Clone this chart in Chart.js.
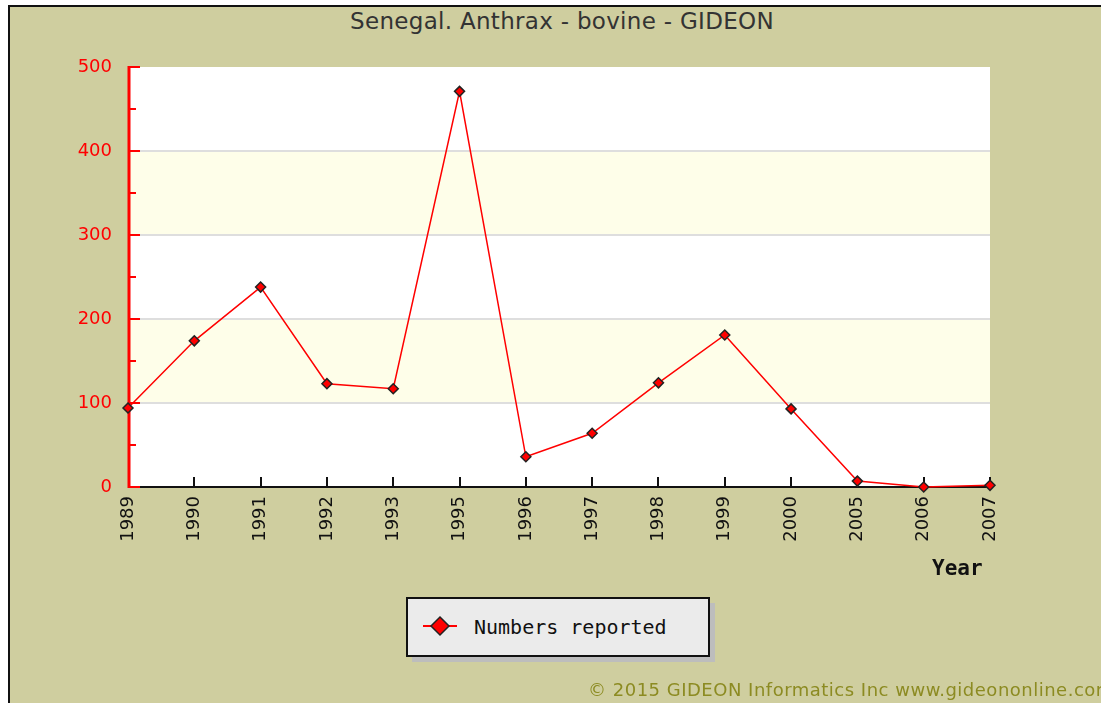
<!DOCTYPE html>
<html>
<head>
<meta charset="utf-8">
<script src="https://cdn.jsdelivr.net/npm/chart.js@4/dist/chart.umd.min.js"></script>
<style>
    html, body { margin: 0; padding: 0; background: #ffffff; overflow: hidden; }
    .frame {
        position: absolute; left: 8px; top: 5px; width: 1200px; height: 800px;
        background: #cfce9f; border: 2px solid #111;
    }
    #wrap { position: absolute; left: 0; top: 0; width: 1101px; height: 703px; }
    .title {
        position: absolute; left: 0; width: 1124px; top: 8px; text-align: center;
        font: 23px "DejaVu Sans", sans-serif; color: #333; letter-spacing: 0.3px;
    }
    .year {
        position: absolute; left: 932px; top: 556px;
        font: bold 21px "DejaVu Sans Mono", monospace; color: #111;
    }
    .legend-shadow {
        position: absolute; left: 412px; top: 603px; width: 303px; height: 59px; background: #bdbdbd;
    }
    .legend {
        position: absolute; left: 406px; top: 597px; width: 300px; height: 56px;
        background: #ebebeb; border: 2px solid #111;
    }
    .legend span {
        position: absolute; left: 66px; top: 16px;
        font: 20px "DejaVu Sans Mono", monospace; color: #111;
    }
    .copy {
        position: absolute; left: 588px; top: 679px; white-space: nowrap;
        font: 18px "DejaVu Sans", sans-serif; color: #8c8b22; letter-spacing: 0.5px;
    }
</style>
</head>
<body>
<div class="frame"></div>
<div class="title">Senegal. Anthrax - bovine - GIDEON</div>
<div id="wrap"><canvas id="chart" width="1101" height="703"></canvas></div>
<div class="year">Year</div>
<div class="legend-shadow"></div>
<div class="legend"><canvas id="marker" width="60" height="56" style="position:absolute;left:0;top:0"></canvas><span>Numbers reported</span></div>
<div class="copy">© 2015 GIDEON Informatics Inc www.gideononline.com</div>
<script>
const years = ['1989', '1990', '1991', '1992', '1993', '1995', '1996', '1997', '1998', '1999', '2000', '2005', '2006', '2007'];
const reported = [94, 174, 238, 123, 117, 471, 36, 64, 124, 181, 93, 7, 0, 2];
const yMax = 500;
const yStep = 100;

// fond du graphique : bandes blanches / jaunes, grille, axes avec ticks vers l'intérieur
const plotDecor = {
    id: 'plotDecor',
    beforeDatasetsDraw(chart) {
        const { ctx, chartArea: a, scales: { x, y } } = chart;
        ctx.save();
        for (let v = 0; v < yMax; v += yStep) {
            ctx.fillStyle = (v / yStep) % 2 === 1 ? '#fefee9' : '#ffffff';
            ctx.fillRect(a.left, y.getPixelForValue(v + yStep), a.right - a.left, y.getPixelForValue(v) - y.getPixelForValue(v + yStep));
        }
        ctx.strokeStyle = '#dedede';
        ctx.lineWidth = 2;
        for (let v = yStep; v < yMax; v += yStep) {
            const py = Math.round(y.getPixelForValue(v));
            ctx.beginPath(); ctx.moveTo(a.left, py); ctx.lineTo(a.right, py); ctx.stroke();
        }
        // axe x noir
        ctx.strokeStyle = '#111';
        ctx.lineWidth = 2;
        ctx.beginPath(); ctx.moveTo(a.left, a.bottom); ctx.lineTo(a.right + 1, a.bottom); ctx.stroke();
        years.forEach((yr, i) => {
            if (i === 0) return;
            const px = Math.round(x.getPixelForValue(i));
            ctx.beginPath(); ctx.moveTo(px, a.bottom - 10); ctx.lineTo(px, a.bottom); ctx.stroke();
        });
        // axe y rouge
        ctx.strokeStyle = '#ff0000';
        ctx.lineWidth = 3;
        ctx.beginPath(); ctx.moveTo(a.left + 1, a.top - 1); ctx.lineTo(a.left + 1, a.bottom + 1); ctx.stroke();
        ctx.lineWidth = 2;
        for (let v = 0; v <= yMax; v += yStep / 2) {
            const py = Math.round(y.getPixelForValue(v));
            const len = v % yStep === 0 ? 12 : 8;
            ctx.beginPath(); ctx.moveTo(a.left, py); ctx.lineTo(a.left + len, py); ctx.stroke();
        }
        ctx.restore();
    }
};

function renderChart() {
    const ctx = document.getElementById('chart').getContext('2d');
    window.chartInstance = new Chart(ctx, {
        type: 'line',
        data: {
            labels: years,
            datasets: [{
                label: 'Numbers reported',
                data: reported,
                borderColor: '#ff0000',
                borderWidth: 1.5,
                tension: 0,
                pointStyle: 'rectRot',
                pointRadius: 5,
                pointBackgroundColor: '#ff0000',
                pointBorderColor: '#222',
                pointBorderWidth: 1.5,
                clip: false
            }]
        },
        options: {
            responsive: false,
            animation: false,
            layout: { padding: { left: 10, right: 111, top: 67, bottom: 156 } },
            plugins: { legend: { display: false }, tooltip: { enabled: false } },
            scales: {
                x: {
                    offset: false,
                    grid: { display: false, drawTicks: false },
                    border: { display: false },
                    afterFit: (scale) => { scale.height = 60; },
                    ticks: {
                        color: '#111', padding: 9, minRotation: 90, maxRotation: 90, autoSkip: false,
                        font: { family: 'DejaVu Sans', size: 18 }
                    }
                },
                y: {
                    min: 0, max: yMax,
                    grid: { display: false, drawTicks: false },
                    border: { display: false },
                    afterFit: (scale) => { scale.width = 118; },
                    ticks: {
                        stepSize: yStep, color: '#ff0000', padding: 16,
                        font: { family: 'DejaVu Sans', size: 18 }
                    }
                }
            }
        },
        plugins: [plotDecor]
    });
}

function renderLegendMarker() {
    const c = document.getElementById('marker').getContext('2d');
    c.strokeStyle = '#ff0000';
    c.lineWidth = 2;
    c.beginPath(); c.moveTo(15, 27); c.lineTo(49, 27); c.stroke();
    c.fillStyle = '#ff0000';
    c.strokeStyle = '#222';
    c.lineWidth = 1.5;
    c.beginPath();
    c.moveTo(32, 18); c.lineTo(41, 27); c.lineTo(32, 36); c.lineTo(23, 27); c.closePath();
    c.fill(); c.stroke();
}

renderChart();
renderLegendMarker();
</script>
</body>
</html>
